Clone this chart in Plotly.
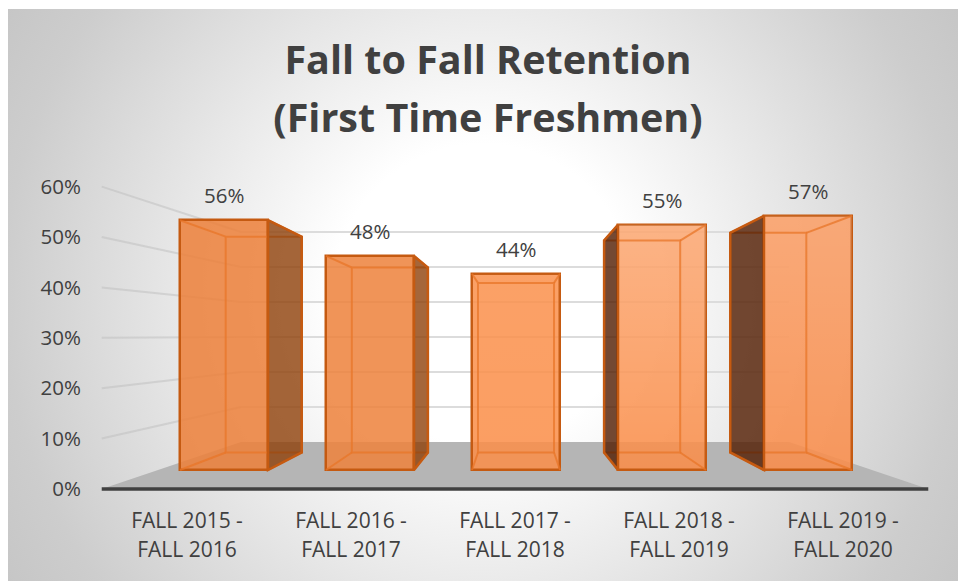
import base64
import plotly.graph_objects as go

# ---- data ----
categories = ["FALL 2015 -<br>FALL 2016", "FALL 2016 -<br>FALL 2017", "FALL 2017 -<br>FALL 2018",
              "FALL 2018 -<br>FALL 2019", "FALL 2019 -<br>FALL 2020"]
retention = [56, 48, 44, 55, 57]
y_ticks = [0, 10, 20, 30, 40, 50, 60]
title_lines = ["Fall to Fall Retention", "(First Time Freshmen)"]

# ---- styles ----
W, H = 958, 581
BOTTOM = 495  # pixel row of the plot-area bottom
TEXT = "#404040"
bar_fill = ["rgba(236,128,58,0.86)", "rgba(238,130,60,0.86)", "rgba(250,142,72,0.86)",
            "rgba(250,140,70,0.86)", "rgba(250,140,72,0.86)"]
bar_sheen = [0.0, 0.0, 0.03, 0.24, 0.16]
side_fill = ["rgba(142,64,9,0.8)", "rgba(142,64,9,0.8)", "rgba(142,64,9,0.8)",
             "rgba(81,27,0,0.8)", "rgba(81,27,0,0.8)"]
EDGE = "#C55A11"
INNER = "rgba(232,118,40,0.75)"
BAR_W = 0.603
# perspective of bars (index / value coordinates)
BVX, BVY, BS = 2.0, 28.9, 0.864
# perspective of the floor / walls (axis coordinates)
WVX, WVY, WSX, WSY = 2.0, 30.5, 0.663, 0.695
X_L, X_R = -0.52, 4.52


def bar_back(x, y):
    return BVX + BS * (x - BVX), BVY + BS * (y - BVY)


def wall_back(x, y):
    return WVX + WSX * (x - WVX), WVY + WSY * (y - WVY)


svg = '''<svg xmlns="http://www.w3.org/2000/svg" width="950" height="572">
<defs><radialGradient id="g" gradientUnits="userSpaceOnUse" cx="0" cy="0" r="600"
gradientTransform="translate(475 285)">
<stop offset="0.25" stop-color="#ffffff"/><stop offset="0.8" stop-color="#cdcdcd"/>
<stop offset="1" stop-color="#c2c2c2"/></radialGradient></defs>
<rect width="950" height="572" fill="url(#g)"/></svg>'''
bg = "data:image/svg+xml;base64," + base64.b64encode(svg.encode()).decode()

fig = go.Figure()
NOHOVER = dict(hoverinfo="skip", showlegend=False, cliponaxis=False)

# floor
x1, y1 = wall_back(X_L, 0)
x2, y2 = wall_back(X_R, 0)
fig.add_trace(go.Scatter(x=[X_L, x1, x2, X_R, X_L], y=[0, y1, y2, 0, 0], mode="lines", fill="toself",
                         fillcolor="#B5B5B5", line=dict(width=0), **NOHOVER))
# gridlines: left wall and back wall
for t in y_ticks[1:]:
    bx, by = wall_back(X_L, t)
    ex, _ = wall_back(X_R, t)
    fig.add_trace(go.Scatter(x=[X_L, bx], y=[t, by], mode="lines",
                             line=dict(color="rgba(190,190,190,0.5)", width=2), **NOHOVER))
    fig.add_trace(go.Scatter(x=[bx, ex], y=[by, by], mode="lines",
                             line=dict(color="#DCDCDC", width=2), **NOHOVER))
# axis line
fig.add_trace(go.Scatter(x=[X_L, X_R], y=[0, 0], mode="lines",
                         line=dict(color=TEXT, width=3.5), **NOHOVER))

# bars: front faces
fig.add_trace(go.Bar(x=list(range(5)), y=retention, width=BAR_W, xaxis="x2", yaxis="y2",
                     marker=dict(color=bar_fill, line=dict(color=EDGE, width=2.5)),
                     hoverinfo="skip", showlegend=False))

# bars: sheen, inner edges, then visible side faces
for i, v in enumerate(retention):
    l, r = i - BAR_W / 2, i + BAR_W / 2
    (lb, tb), (rb, bb) = bar_back(l, v), bar_back(r, 0)
    if bar_sheen[i] > 0:
        fig.add_trace(go.Scatter(
            x=[l, r, r, l, l], y=[0, 0, v, v, 0], mode="lines", fill="toself", xaxis="x2", yaxis="y2",
            line=dict(width=0),
            fillgradient=dict(type="vertical", colorscale=[[0, "rgba(255,255,255,0)"],
                                                           [1, f"rgba(255,255,255,{bar_sheen[i]})"]]),
            **NOHOVER))
    xs = [lb, rb, rb, lb, lb, None, l, lb, None, r, rb, None, l, lb, None, r, rb]
    ys = [tb, tb, bb, bb, tb, None, v, tb, None, v, tb, None, 0, bb, None, 0, bb]
    fig.add_trace(go.Scatter(x=xs, y=ys, mode="lines", xaxis="x2", yaxis="y2",
                             line=dict(color=INNER, width=2), **NOHOVER))
    if rb > r:
        sx = [r, rb, rb, r, r]
    elif lb < l:
        sx = [l, lb, lb, l, l]
    else:
        continue
    fig.add_trace(go.Scatter(x=sx, y=[v, tb, bb, 0, v], mode="lines", fill="toself", xaxis="x2", yaxis="y2",
                             fillcolor=side_fill[i], line=dict(color=EDGE, width=2.5), **NOHOVER))

for i, v in enumerate(retention):
    fig.add_annotation(x=i, y=v, xref="x2", yref="y2", yshift=25, text=f"{v}%", showarrow=False,
                       font=dict(family="Open Sans", size=20.5, color=TEXT))

tick_text = ["<br>".join(f'<span style="font-size:21px">{p}</span>' for p in c.split("<br>")) for c in categories]
title_text = "<br>".join(f'<span style="font-size:39.5px">{p}</span>' for p in title_lines)

fig.update_layout(
    width=W, height=H, margin=dict(l=0, r=0, t=0, b=0, autoexpand=False),
    paper_bgcolor="white", plot_bgcolor="rgba(0,0,0,0)", bargap=0,
    font=dict(family="Open Sans", color=TEXT),
    title=dict(text=title_text, x=488 / W, xanchor="center", y=1 - 74 / H, yanchor="top",
               font=dict(family="Open Sans", size=44.6, color=TEXT, weight="bold")),
    images=[dict(source=bg, xref="paper", yref="paper", x=8 / W, y=1 - 9 / H, sizex=950 / W, sizey=572 / H,
                 sizing="stretch", layer="below", xanchor="left", yanchor="top")],
    xaxis=dict(domain=[0, 1], range=[-187 / 164, (W - 187) / 164], tickmode="array", tickvals=list(range(5)),
               ticktext=tick_text, tickfont=dict(size=22.3, family="Open Sans", color=TEXT), tickangle=0,
               showgrid=False, zeroline=False, showline=False,
               ticks="outside", ticklen=5, tickcolor="rgba(0,0,0,0)"),
    yaxis=dict(domain=[(H - BOTTOM) / H, 1], range=[(489 - BOTTOM) / 5.04, 489 / 5.04], tickmode="array",
               tickvals=y_ticks, ticktext=[f"{t}%" for t in y_ticks],
               tickfont=dict(size=20.5, family="Open Sans", color=TEXT),
               anchor="free", position=88 / W, showgrid=False, zeroline=False, showline=False,
               ticks="outside", ticklen=3, tickcolor="rgba(0,0,0,0)"),
    xaxis2=dict(overlaying="x", range=[-224 / 146, (W - 224) / 146], visible=False),
    yaxis2=dict(overlaying="y", range=[(470 - BOTTOM) / 4.46, 470 / 4.46], visible=False),
)

fig.write_html("out.html", post_script="document.body.style.margin='0';",
               config={"displayModeBar": False})
